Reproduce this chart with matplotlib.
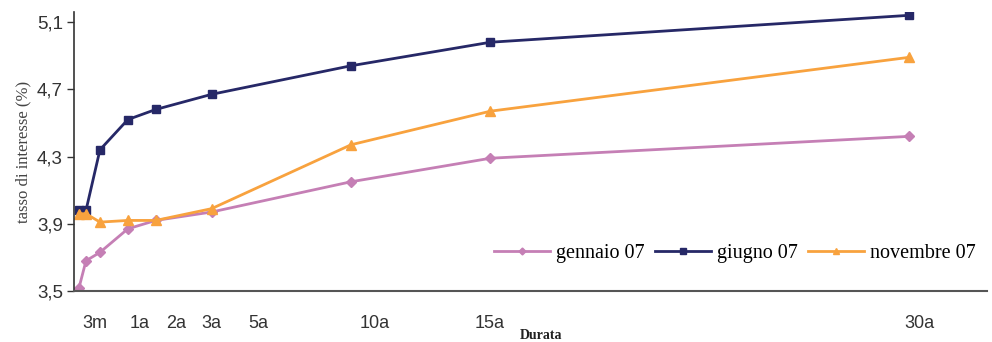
# Curva dei tassi per scadenza (gennaio / giugno / novembre 2007)

import matplotlib
matplotlib.use("Agg")
import matplotlib.pyplot as plt

# scadenze in anni
durata = [0.25, 0.5, 1, 2, 3, 5, 10, 15, 30]

gennaio_07 = [3.52, 3.68, 3.73, 3.87, 3.92, 3.97, 4.15, 4.29, 4.42]
giugno_07 = [3.98, 3.98, 4.34, 4.52, 4.58, 4.67, 4.84, 4.98, 5.14]
novembre_07 = [3.96, 3.96, 3.91, 3.92, 3.92, 3.99, 4.37, 4.57, 4.89]

tick_labels = ["3m", "1a", "2a", "3a", "5a", "10a", "15a", "30a"]
y_ticks = [3.5, 3.9, 4.3, 4.7, 5.1]

# where the scanned labels sit along the axis (layout only)
TICK_POS = [0.82, 2.43, 3.72, 5.01, 6.66, 10.85, 14.97, 30.36]

SANS = ["Liberation Sans", "DejaVu Sans"]
SERIF = ["Liberation Serif", "DejaVu Serif"]

fig = plt.figure(figsize=(9.92, 3.42), dpi=100)
ax = fig.add_axes([0.0746, 0.149, 0.9204, 0.816])

ax.plot(durata, gennaio_07, color="#c57fb5", lw=2, marker="D",
        ms=5, label="gennaio 07")
ax.plot(durata, giugno_07, color="#262867", lw=2, marker="s",
        ms=6, label="giugno 07")
ax.plot(durata, novembre_07, color="#f8a23e", lw=2, marker="^",
        ms=7, label="novembre 07")

ax.set_xlim(0.07, 32.8)
ax.set_ylim(3.5, 5.16)

ax.set_yticks(y_ticks)
ax.set_yticklabels([f"{v:.1f}".replace(".", ",") for v in y_ticks],
                   family=SANS, fontsize=13.5, color="#333333")
ax.set_xticks(TICK_POS)
ax.set_xticklabels(tick_labels, family=SANS, fontsize=13, color="#333333")
ax.tick_params(axis="x", length=0, pad=17)
ax.tick_params(axis="y", length=5, width=1, direction="out", color="#333333",
               pad=3)

for side in ("top", "right"):
    ax.spines[side].set_visible(False)
ax.spines["left"].set_color("#333333")
ax.spines["left"].set_linewidth(1.2)
ax.spines["bottom"].set_color("#555555")
ax.spines["bottom"].set_linewidth(1.5)

ax.set_ylabel("tasso di interesse (%)", family=SERIF, fontsize=12,
              color="#444444", labelpad=4)
fig.text(0.545, 0.0, "Durata", family=SERIF, fontsize=10, weight="bold",
         color="#222222", ha="center", va="bottom")

leg = ax.legend(loc="lower right", bbox_to_anchor=(1.008, 0.035), ncol=3,
                frameon=False, prop={"family": SERIF, "size": 14.5},
                handlelength=2.8, handletextpad=0.3, columnspacing=0.5,
                markerscale=0.7)

fig.savefig("out.png", dpi=100)
plt.close(fig)
